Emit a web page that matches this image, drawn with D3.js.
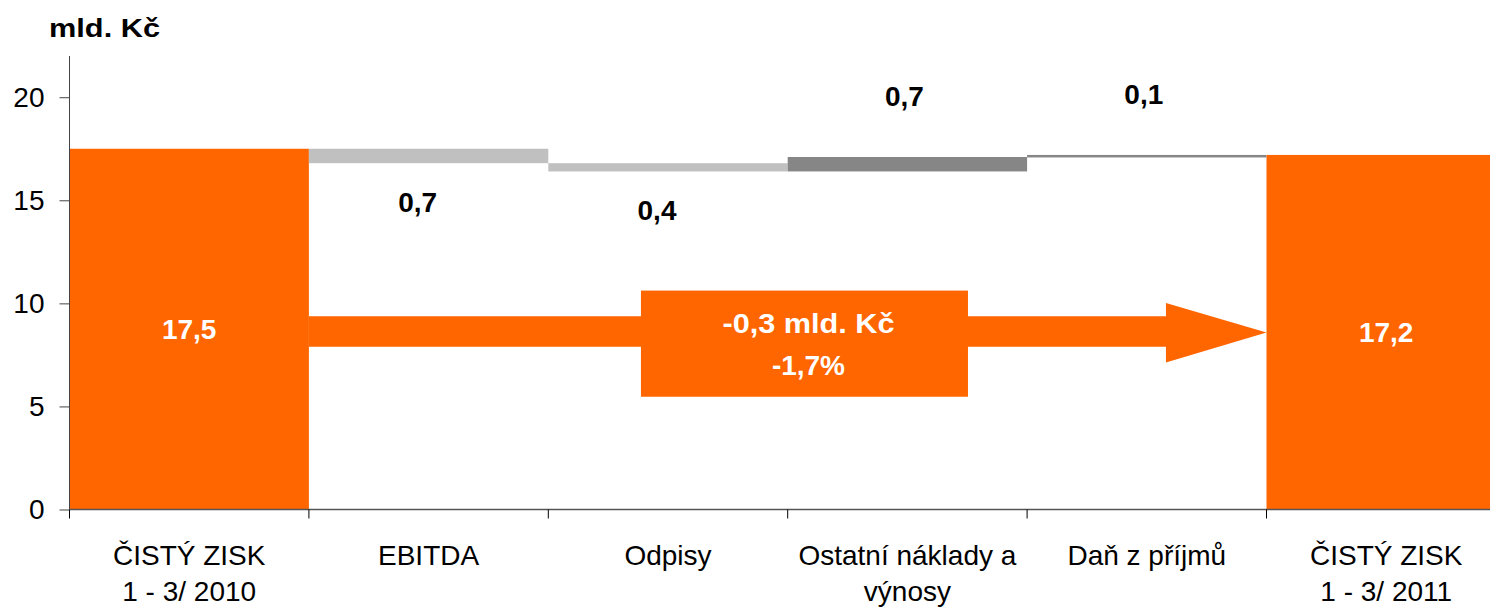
<!DOCTYPE html>
<html>
<head>
<meta charset="utf-8">
<script src="https://cdn.jsdelivr.net/npm/d3@7"></script>
<style>
  body { margin: 0; background: #fff; }
  svg text { font-family: "Liberation Sans", Arial, sans-serif; }
</style>
</head>
<body>
<div id="chart"></div>
<script>
// categories (multi-line labels) and waterfall values, mld. Kč
const categories = ["ČISTÝ ZISK|1 - 3/ 2010", "EBITDA", "Odpisy", "Ostatní náklady a|výnosy", "Daň z příjmů", "ČISTÝ ZISK|1 - 3/ 2011"];
const values = [17.5, -0.7, -0.4, 0.7, 0.1, 17.2];
const isTotal = [true, false, false, false, false, true];
const valueLabels = ["17,5", "0,7", "0,4", "0,7", "0,1", "17,2"];
const yTicks = [0, 5, 10, 15, 20];
const unitLabel = "mld. Kč";
const summaryLines = ["-0,3 mld. Kč", "-1,7%"];

const ORANGE = "#ff6600";

const W = 1490, H = 609;
const margin = {top: 56, left: 69.5, bottom: 99.5};

const svg = d3.select("#chart").append("svg")
    .attr("width", W)
    .attr("height", H);

const x = d3.scaleBand()
    .domain(categories)
    .range([margin.left, margin.left + 6 * 239.4])
    .padding(0);

// band index -> pixel, for the arrow annotation
const xi = d3.scaleLinear().domain([0, categories.length]).range(x.range());

const y = d3.scaleLinear()
    .domain([0, 22])
    .range([H - margin.bottom, margin.top]);

// waterfall steps
let running = 0;
const steps = values.map((v, i) => {
    let lo, hi;
    if (isTotal[i]) { lo = 0; hi = v; running = v; }
    else { const start = running; running = +(running + v).toFixed(4); lo = Math.min(start, running); hi = Math.max(start, running); }
    return {cat: categories[i], v: v, lo: lo, hi: hi, total: isTotal[i], label: valueLabels[i]};
});

function barColor(d) {
    if (d.total) return ORANGE;
    return d.v < 0 ? "#c0c0c0" : "#868686";
}

// bars
svg.append("g").selectAll("rect")
    .data(steps)
    .join("rect")
    .attr("x", d => x(d.cat))
    .attr("width", x.bandwidth())
    .attr("y", d => y(d.hi))
    .attr("height", d => Math.max(2.5, y(d.lo) - y(d.hi)))
    .attr("fill", barColor);

// arrow from first total to last total (values in mld. Kč units)
const shaft = [7.9, 9.38], head = [7.13, 10.02], tipY = 8.59, headStart = 4.58;
const arrowPts = [
    [xi(1), y(shaft[1])], [xi(headStart), y(shaft[1])], [xi(headStart), y(head[1])],
    [xi(5), y(tipY)],
    [xi(headStart), y(head[0])], [xi(headStart), y(shaft[0])], [xi(1), y(shaft[0])]
];
svg.append("path")
    .attr("d", d3.line()(arrowPts) + "Z")
    .attr("fill", ORANGE);

// summary box
const box = {x0: 2.387, x1: 3.753, top: 10.62, bottom: 5.47};
svg.append("rect")
    .attr("x", xi(box.x0))
    .attr("width", xi(box.x1) - xi(box.x0))
    .attr("y", y(box.top))
    .attr("height", y(box.bottom) - y(box.top))
    .attr("fill", ORANGE);

svg.append("g").selectAll("text")
    .data(summaryLines)
    .join("text")
    .attr("x", (xi(box.x0) + xi(box.x1)) / 2 + 4)
    .attr("y", (d, i) => 332.5 + i * 42.5)
    .attr("text-anchor", "middle")
    .attr("fill", "#fff")
    .style("font-size", "28px")
    .style("font-weight", "bold")
    .attr("textLength", (d, i) => i === 0 ? 172 : null)
    .attr("lengthAdjust", "spacingAndGlyphs")
    .text(d => d);

// value labels
svg.append("g").selectAll("text")
    .data(steps)
    .join("text")
    .attr("x", d => x(d.cat) + x.bandwidth() / 2 + (d.total ? 0 : (d.v < 0 ? -11 : -3)))
    .attr("y", d => {
        if (d.total) return y(d.hi / 2) + 10;
        return d.v < 0 ? y(d.lo) + 49 : y(d.hi) - 51;
    })
    .attr("text-anchor", "middle")
    .attr("fill", d => d.total ? "#fff" : "#000")
    .style("font-size", "28px")
    .style("font-weight", "bold")
    .text(d => d.label);

// y axis
const yAxis = svg.append("g")
    .attr("transform", `translate(${margin.left},0)`)
    .call(d3.axisLeft(y).tickValues(yTicks).tickSize(10).tickPadding(15).tickFormat(d3.format("d")));
yAxis.select(".domain").attr("stroke", "#444").attr("d", `M0,${y(0)}V${y(22)}`);
yAxis.selectAll(".tick line").attr("stroke", "#444");
yAxis.selectAll(".tick text")
    .attr("fill", "#000")
    .style("font-size", "28px")
    .style("font-family", "'Liberation Sans', Arial, sans-serif");

// x axis: ticks on band edges
const xAxisG = svg.append("g");
xAxisG.append("line")
    .attr("x1", margin.left).attr("x2", W)
    .attr("y1", y(0)).attr("y2", y(0))
    .attr("stroke", "#555").attr("stroke-width", 1.5);
xAxisG.selectAll("line.tick")
    .data(d3.range(categories.length + 1))
    .join("line")
    .attr("class", "tick")
    .attr("x1", d => xi(d)).attr("x2", d => xi(d))
    .attr("y1", y(0)).attr("y2", y(0) + 9)
    .attr("stroke", "#000");

const catLabels = xAxisG.selectAll("text")
    .data(categories)
    .join("text")
    .attr("x", d => x(d) + x.bandwidth() / 2)
    .attr("y", 565)
    .attr("text-anchor", "middle")
    .attr("fill", "#000")
    .style("font-size", "28px");
catLabels.each(function(d) {
    const el = d3.select(this);
    d.split("|").forEach((line, i) => {
        el.append("tspan")
            .attr("x", x(d) + x.bandwidth() / 2)
            .attr("dy", i === 0 ? 0 : 36)
            .text(line);
    });
});

// unit label
svg.append("text")
    .attr("x", 49)
    .attr("y", 37)
    .style("font-size", "26px")
    .style("font-weight", "bold")
    .attr("textLength", 111)
    .attr("lengthAdjust", "spacingAndGlyphs")
    .text(unitLabel);
</script>
</body>
</html>
